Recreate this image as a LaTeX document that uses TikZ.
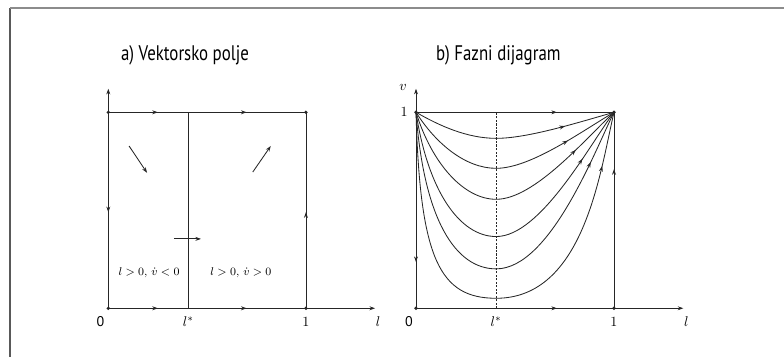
\documentclass[tikz,border=0pt]{standalone}
\usepackage{fontspec}
\setsansfont{PT Sans}
\usetikzlibrary{arrows.meta,decorations.markings}
\tikzset{
  line/.style={draw=black!85, line width=0.6pt},
  vecarrow/.style={line, -{Stealth[length=4pt,width=2.8pt]}},
  midarrow/.style={postaction={decorate, decoration={markings,
      mark=at position #1 with {\arrow{Stealth[length=4pt,width=2.8pt]}}}}},
  dot/.style={circle, fill=black!85, inner sep=0pt, minimum size=2.6pt},
  titel/.style={font=\sffamily\fontsize{15}{17}\selectfont, xscale=0.8},
  lab/.style={font=\normalsize},
  zero/.style={font=\sffamily\normalsize}
}
\begin{document}
\begin{tikzpicture}
  \useasboundingbox (0,0) rectangle (19.6,8.925);
  % 外框
  \coordinate (fTL) at (0.25,8.725);
  \draw[black!65, line width=1pt] (0.25,0) -- (fTL);
  \draw[black!45, line width=1pt] (fTL) -- (19.6,8.725);

  % a) 向量场
  \begin{scope}[shift={(2.708cm,1.218cm)}, x=4.94cm, y=4.9cm]
    \coordinate (aO) at (0,0);
    \coordinate (aA) at (0,1);
    \coordinate (aB) at (1,1);
    \coordinate (aC) at (1,0);
    \coordinate (aS) at (0.405,0);
    \coordinate (aT) at (0.405,1);
    \coordinate (aY) at (0,1.12);
    \coordinate (aX) at (1.35,0);
    \node[titel] (atitle) at (0.388,1.292) {a) Vektorsko polje};
    % 坐标轴
    \draw[vecarrow] (aO) -- (aY);
    \draw[vecarrow] (aO) -- (aX);
    % 边界及方向
    \draw[line, midarrow=0.251, midarrow=0.70] (aA) -- (aB);
    \draw[line, midarrow=0.251, midarrow=0.70] (aO) -- (aC);
    \draw[line, midarrow=0.51] (aA) -- (aO);
    \draw[line, midarrow=0.49] (aC) -- (aB);
    \draw[line] (aS) -- (aT);
    \node[dot] at (aO) {};
    \node[dot] at (aA) {};
    \node[dot] at (aB) {};
    \node[dot] at (aC) {};
    % 区域内的向量
    \coordinate (p1) at (0.105,0.828);
    \coordinate (p2) at (0.196,0.691);
    \coordinate (p3) at (0.731,0.695);
    \coordinate (p4) at (0.822,0.828);
    \coordinate (p5) at (0.332,0.354);
    \coordinate (p6) at (0.469,0.354);
    \draw[vecarrow] (p1) -- (p2);
    \draw[vecarrow] (p3) -- (p4);
    \draw[vecarrow] (p5) -- (p6);
    \node[font=\footnotesize] (aleft) at (0.206,0.180) {$l>0,\,\dot v<0$};
    \node[font=\footnotesize] (aright) at (0.671,0.180) {$l>0,\,\dot v>0$};
    % 刻度标签
    \node[zero] (a0) at (-0.04,-0.068) {0};
    \node[lab] (als) at (0.405,-0.068) {$l^*$};
    \node[lab] (a1) at (1,-0.068) {$1$};
    \node[lab] (al) at (1.365,-0.068) {$l$};
  \end{scope}

  % b) 相图
  \begin{scope}[shift={(10.4cm,1.218cm)}, x=4.95cm, y=4.9cm]
    \coordinate (bO) at (0,0);
    \coordinate (bA) at (0,1);
    \coordinate (bB) at (1,1);
    \coordinate (bC) at (1,0);
    \coordinate (bS) at (0.405,0);
    \coordinate (bT) at (0.405,1);
    \coordinate (bY) at (0,1.12);
    \coordinate (bX) at (1.35,0);
    \node[titel] (btitle) at (0.416,1.292) {b) Fazni dijagram};
    % 坐标轴
    \draw[vecarrow] (bO) -- (bY);
    \draw[vecarrow] (bO) -- (bX);
    \draw[line, dash pattern=on 1.5pt off 1pt, line width=0.5pt] (bS) -- (bT);
    % 边界及方向
    \draw[line, midarrow=0.712] (bA) -- (bB);
    \draw[line, midarrow=0.712] (bO) -- (bC);
    \draw[line, midarrow=0.764] (bA) -- (bO);
    \draw[line, midarrow=0.71] (bC) -- (bB);
    % 轨线, 最低点在 l^*
    \draw[line] (bA) .. controls (0.12,0.93) and (0.26,0.867) .. (0.405,0.867);
    \draw[line, midarrow=0.58] (0.405,0.867) .. controls (0.56,0.867) and (0.8,0.942) .. (bB);
    \draw[line] (bA) .. controls (0.1,0.84) and (0.25,0.714) .. (0.405,0.714);
    \draw[line, midarrow=0.59] (0.405,0.714) .. controls (0.58,0.714) and (0.84,0.905) .. (bB);
    \draw[line] (bA) .. controls (0.08,0.74) and (0.24,0.556) .. (0.405,0.556);
    \draw[line, midarrow=0.64] (0.405,0.556) .. controls (0.6,0.556) and (0.86,0.87) .. (bB);
    \draw[line] (bA) .. controls (0.06,0.6) and (0.22,0.366) .. (0.405,0.366);
    \draw[line, midarrow=0.68] (0.405,0.366) .. controls (0.63,0.366) and (0.88,0.84) .. (bB);
    \draw[line] (bA) .. controls (0.04,0.45) and (0.2,0.201) .. (0.405,0.201);
    \draw[line, midarrow=0.73] (0.405,0.201) .. controls (0.68,0.201) and (0.91,0.82) .. (bB);
    \draw[line] (bA) .. controls (0.02,0.25) and (0.12,0.051) .. (0.405,0.051);
    \draw[line, midarrow=0.77] (0.405,0.051) .. controls (0.85,0.051) and (0.93,0.7) .. (bB);
    \node[dot] at (bO) {};
    \node[dot] at (bA) {};
    \node[dot] at (bB) {};
    \node[dot] at (bC) {};
    % 刻度标签
    \node[lab] (bv) at (-0.066,1.124) {$v$};
    \node[lab] (bv1) at (-0.06,1) {$1$};
    \node[zero] (b0) at (-0.035,-0.068) {0};
    \node[lab] (bls) at (0.405,-0.068) {$l^*$};
    \node[lab] (b1) at (1,-0.068) {$1$};
    \node[lab] (bl) at (1.365,-0.068) {$l$};
  \end{scope}
\end{tikzpicture}
\end{document}
